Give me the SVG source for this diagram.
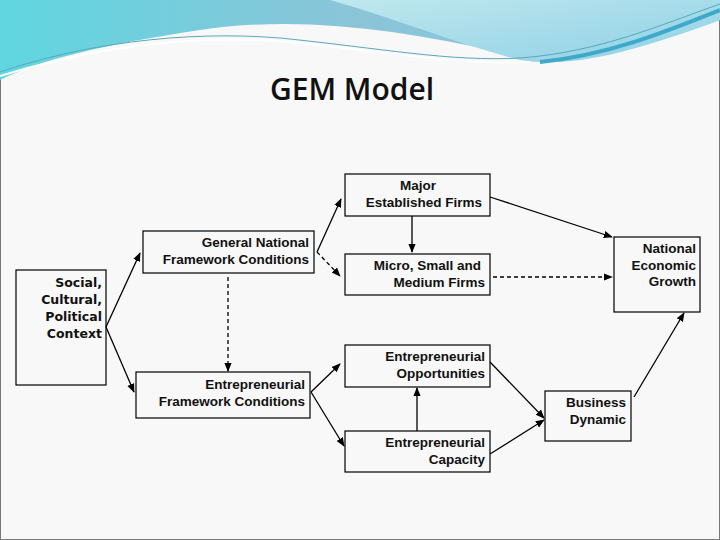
<svg xmlns="http://www.w3.org/2000/svg" width="720" height="540" viewBox="0 0 720 540">
<defs>
<linearGradient id="g1" x1="0" y1="0" x2="1" y2="0"><stop offset="0" stop-color="#5fd6e0"/><stop offset="0.5" stop-color="#8cc4d8"/><stop offset="1" stop-color="#7ccde0"/></linearGradient>
<linearGradient id="g2" x1="0" y1="0" x2="1" y2="1"><stop offset="0" stop-color="#bfe8ee"/><stop offset="1" stop-color="#8fd0e6"/></linearGradient>
<marker id="ah" viewBox="0 0 10 10" refX="9" refY="5" markerWidth="7" markerHeight="7" orient="auto"><path d="M0,1 L10,5 L0,9 z" fill="#000"/></marker>
<style>
.box{fill:none;stroke:#000;stroke-width:1.2}
.t{font-family:"Liberation Sans",Arial,sans-serif;font-size:13.5px;font-weight:bold;fill:#111}
.v{font-family:"DejaVu Sans",Verdana,sans-serif;font-size:12.5px;font-weight:bold;fill:#111}
.c{stroke:#000;stroke-width:1.3;fill:none;marker-end:url(#ah)}
.d{stroke-dasharray:4,3}
</style>
</defs>
<rect x="0" y="0" width="720" height="540" fill="#f8f8f8"/>
<rect x="0.5" y="0.5" width="719" height="539" fill="none" stroke="#777"/>
<path d="M0,0 H720 V20 C640,50 560,70 500,52 C400,30 300,15 200,30 C100,45 40,60 0,80 Z" fill="url(#g1)"/>
<path d="M330,0 H720 V20 C650,45 580,70 520,60 C460,45 400,20 330,0 Z" fill="url(#g2)"/>
<path d="M0,72 C80,45 180,30 280,38 C380,48 450,62 520,58 C600,52 660,25 720,4" fill="none" stroke="#5aa8b8" stroke-width="1"/>
<path d="M0,76 C90,48 190,34 290,42 C390,52 460,66 530,62" fill="none" stroke="#fff" stroke-width="2"/>
<path d="M540,62 C610,55 670,30 720,10" fill="none" stroke="#3fa9c9" stroke-width="4"/>
<text x="352" y="100" text-anchor="middle" style="font-family:'Open Sans',sans-serif;font-size:30px;font-weight:600;fill:#111">GEM Model</text>
<g id="connectors">
<line class="c" x1="106" y1="327" x2="140" y2="253"/>
<line class="c" x1="106" y1="327" x2="134" y2="392"/>
<line class="c" x1="317" y1="252" x2="341" y2="199"/>
<line class="c d" x1="317" y1="252" x2="340" y2="276"/>
<line class="c d" x1="228" y1="277" x2="228" y2="371"/>
<line class="c" x1="311" y1="392" x2="340" y2="364"/>
<line class="c" x1="311" y1="392" x2="344" y2="446"/>
<line class="c" x1="412" y1="216" x2="412" y2="252"/>
<line class="c" x1="490" y1="197" x2="612" y2="237"/>
<line class="c d" x1="493" y1="277" x2="612" y2="277"/>
<line class="c" x1="490" y1="362" x2="544" y2="418"/>
<line class="c" x1="490" y1="454" x2="544" y2="420"/>
<line class="c" x1="417" y1="431" x2="417" y2="388"/>
<line class="c" x1="634" y1="397" x2="684" y2="313"/>
</g>
<g id="social"><rect class="box" x="16" y="270" width="90" height="115"/>
<text class="v" text-anchor="end"><tspan x="102" y="287">Social,</tspan><tspan x="102" y="304">Cultural,</tspan><tspan x="102" y="321">Political</tspan><tspan x="102" y="338">Context</tspan></text></g>
<g id="gnfc"><rect class="box" x="143" y="231" width="171" height="42"/>
<text class="t" text-anchor="end"><tspan x="309" y="247">General National</tspan><tspan x="309" y="264">Framework Conditions</tspan></text></g>
<g id="efc"><rect class="box" x="136" y="372" width="174" height="46"/>
<text class="t" text-anchor="end"><tspan x="305" y="389">Entrepreneurial</tspan><tspan x="305" y="406">Framework Conditions</tspan></text></g>
<g id="major"><rect class="box" x="345" y="174" width="145" height="42"/>
<text class="t" text-anchor="middle"><tspan x="418" y="190">Major</tspan><tspan x="424" y="207">Established Firms</tspan></text></g>
<g id="micro"><rect class="box" x="345" y="254" width="145" height="41"/>
<text class="t" text-anchor="end"><tspan x="481" y="270">Micro, Small and</tspan><tspan x="485" y="287">Medium Firms</tspan></text></g>
<g id="opp"><rect class="box" x="345" y="345" width="145" height="42"/>
<text class="t" text-anchor="end"><tspan x="485" y="361">Entrepreneurial</tspan><tspan x="485" y="378">Opportunities</tspan></text></g>
<g id="cap"><rect class="box" x="345" y="431" width="145" height="41"/>
<text class="t" text-anchor="end"><tspan x="485" y="447">Entrepreneurial</tspan><tspan x="485" y="464">Capacity</tspan></text></g>
<g id="neg"><rect class="box" x="614" y="237" width="86" height="75"/>
<text class="t" text-anchor="end"><tspan x="696" y="253">National</tspan><tspan x="696" y="270">Economic</tspan><tspan x="696" y="286">Growth</tspan></text></g>
<g id="bd"><rect class="box" x="545" y="391" width="86" height="50"/>
<text class="t" text-anchor="end"><tspan x="626" y="407">Business</tspan><tspan x="626" y="424">Dynamic</tspan></text></g>
</svg>
